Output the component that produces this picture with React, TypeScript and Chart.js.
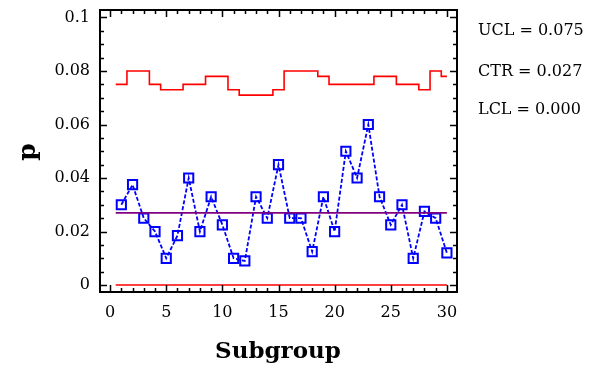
import React, { useEffect, useRef } from "react";
import { Chart, registerables } from "chart.js";

Chart.register(...registerables);

const subgroups = [1, 2, 3, 4, 5, 6, 7, 8, 9, 10, 11, 12, 13, 14, 15, 16, 17, 18, 19, 20, 21, 22, 23, 24, 25, 26, 27, 28, 29, 30];
const pValues = [0.030, 0.0375, 0.025, 0.020, 0.010, 0.0185, 0.040, 0.020, 0.033, 0.0225, 0.010, 0.009, 0.033, 0.025, 0.045, 0.025, 0.025, 0.0125, 0.033, 0.020, 0.050, 0.040, 0.060, 0.033, 0.0225, 0.030, 0.010, 0.0275, 0.025, 0.012];
const uclValues = [0.075, 0.080, 0.080, 0.075, 0.073, 0.073, 0.075, 0.075, 0.078, 0.078, 0.073, 0.071, 0.071, 0.071, 0.073, 0.080, 0.080, 0.080, 0.078, 0.075, 0.075, 0.075, 0.075, 0.078, 0.078, 0.075, 0.075, 0.073, 0.080, 0.078];
const ctrValue = 0.027;
const lclValue = 0.0;
const xTickValues = [0, 5, 10, 15, 20, 25, 30];
const xTickLabels = ["0", "5", "10", "15", "20", "25", "30"];
const yTickValues = [0, 0.02, 0.04, 0.06, 0.08, 0.1];
const yTickLabels = ["0", "0.02", "0.04", "0.06", "0.08", "0.1"];
const legendLines = ["UCL = 0.075", "CTR = 0.027", "LCL = 0.000"];
const xTitle = "Subgroup";
const yTitle = "p";

const TICK_FONT = "DejaVu Serif";

const framePlugin = {
  id: "framePlugin",
  afterDraw(chart: any) {
    const { ctx, chartArea, scales } = chart;
    const xs = scales.x;
    const ys = scales.y;
    ctx.save();
    ctx.strokeStyle = "#000";
    ctx.lineWidth = 1.5;
    ctx.beginPath();
    for (let i = 0; i <= 30; i++) {
      const px = Math.round(xs.getPixelForValue(i)) + 0.5;
      const len = i % 5 === 0 ? 7 : 4;
      ctx.moveTo(px, chartArea.bottom);
      ctx.lineTo(px, chartArea.bottom - len);
      ctx.moveTo(px, chartArea.top);
      ctx.lineTo(px, chartArea.top + len);
    }
    for (let j = 0; j <= 20; j++) {
      const v = j * 0.005;
      const py = Math.round(ys.getPixelForValue(v)) + 0.5;
      const len = j % 4 === 0 ? 7 : 4;
      ctx.moveTo(chartArea.left, py);
      ctx.lineTo(chartArea.left + len, py);
      ctx.moveTo(chartArea.right, py);
      ctx.lineTo(chartArea.right - len, py);
    }
    ctx.stroke();
    ctx.lineWidth = 2;
    ctx.strokeRect(chartArea.left, chartArea.top, chartArea.right - chartArea.left, chartArea.bottom - chartArea.top);

    ctx.fillStyle = "#000";
    ctx.font = `16px '${TICK_FONT}'`;
    ctx.textAlign = "left";
    ctx.textBaseline = "middle";
    const ys2 = [31, 72, 110];
    legendLines.forEach((t, i) => ctx.fillText(t, 478, ys2[i]));

    ctx.font = `bold 23px '${TICK_FONT}'`;
    ctx.textAlign = "center";
    ctx.textBaseline = "alphabetic";
    ctx.fillText(xTitle, 278, 358);
    ctx.save();
    ctx.translate(35, 152);
    ctx.rotate(-Math.PI / 2);
    ctx.font = `bold 25px '${TICK_FONT}'`;
    ctx.fillText(yTitle, 0, 0);
    ctx.restore();
    ctx.restore();
  },
};

export default function App() {
  const ref = useRef<HTMLCanvasElement | null>(null);
  useEffect(() => {
    document.body.style.margin = "0";
    const canvas = ref.current;
    if (!canvas) return;
    const uclPoints = uclValues.map((v, i) => ({ x: subgroups[i] - 0.5, y: v }));
    uclPoints.push({ x: subgroups[subgroups.length - 1], y: uclValues[uclValues.length - 1] });
    const first = subgroups[0] - 0.5;
    const last = subgroups[subgroups.length - 1];
    const chart = new Chart(canvas, {
      type: "line",
      data: {
        datasets: [
          {
            data: uclPoints,
            borderColor: "#ff0000",
            borderWidth: 1.6,
            stepped: true,
            pointRadius: 0,
            fill: false,
          },
          {
            data: [{ x: first, y: lclValue }, { x: last, y: lclValue }],
            borderColor: "#ff0000",
            borderWidth: 1.6,
            pointRadius: 0,
            fill: false,
          },
          {
            data: [{ x: first, y: ctrValue }, { x: last, y: ctrValue }],
            borderColor: "#800080",
            borderWidth: 1.8,
            pointRadius: 0,
            fill: false,
          },
          {
            data: subgroups.map((s, i) => ({ x: s, y: pValues[i] })),
            borderColor: "#0000ff",
            borderWidth: 1.8,
            borderDash: [4, 2],
            pointStyle: "rect",
            pointRadius: 6.5,
            pointBorderWidth: 2,
            pointBorderColor: "#0000ff",
            pointBackgroundColor: "rgba(0,0,0,0)",
            fill: false,
          },
        ],
      } as any,
      options: {
        animation: false,
        responsive: false,
        events: [],
        layout: { padding: { left: 0, top: 10, right: 141, bottom: 0 } },
        plugins: { legend: { display: false }, tooltip: { enabled: false } },
        scales: {
          x: {
            type: "linear",
            min: -0.9,
            max: 30.9,
            grid: { display: false, drawTicks: false },
            border: { display: false },
            afterBuildTicks: (s: any) => {
              s.ticks = xTickValues.map((v) => ({ value: v }));
            },
            afterFit: (s: any) => {
              s.height = 79;
              s.paddingLeft = 0;
              s.paddingRight = 0;
            },
            ticks: {
              autoSkip: false,
              maxRotation: 0,
              padding: 11,
              color: "#000",
              font: { family: TICK_FONT, size: 16 },
              callback: (v: any) => {
                const i = xTickValues.indexOf(Number(v));
                return i >= 0 ? xTickLabels[i] : "";
              },
            },
          },
          y: {
            type: "linear",
            min: -0.0026,
            max: 0.1028,
            grid: { display: false, drawTicks: false },
            border: { display: false },
            afterBuildTicks: (s: any) => {
              s.ticks = yTickValues.map((v) => ({ value: v }));
            },
            afterFit: (s: any) => {
              s.width = 100;
              s.paddingTop = 0;
              s.paddingBottom = 0;
            },
            ticks: {
              autoSkip: false,
              padding: 10,
              color: "#000",
              font: { family: TICK_FONT, size: 16 },
              callback: (v: any) => {
                const i = yTickValues.findIndex((t) => Math.abs(t - Number(v)) < 1e-9);
                return i >= 0 ? yTickLabels[i] : "";
              },
            },
          },
        },
      } as any,
      plugins: [framePlugin],
    });
    return () => chart.destroy();
  }, []);
  return (
    <div style={{ width: 598, height: 371, background: "#fff" }}>
      <canvas ref={ref} width={598} height={371} style={{ display: "block" }} />
    </div>
  );
}
